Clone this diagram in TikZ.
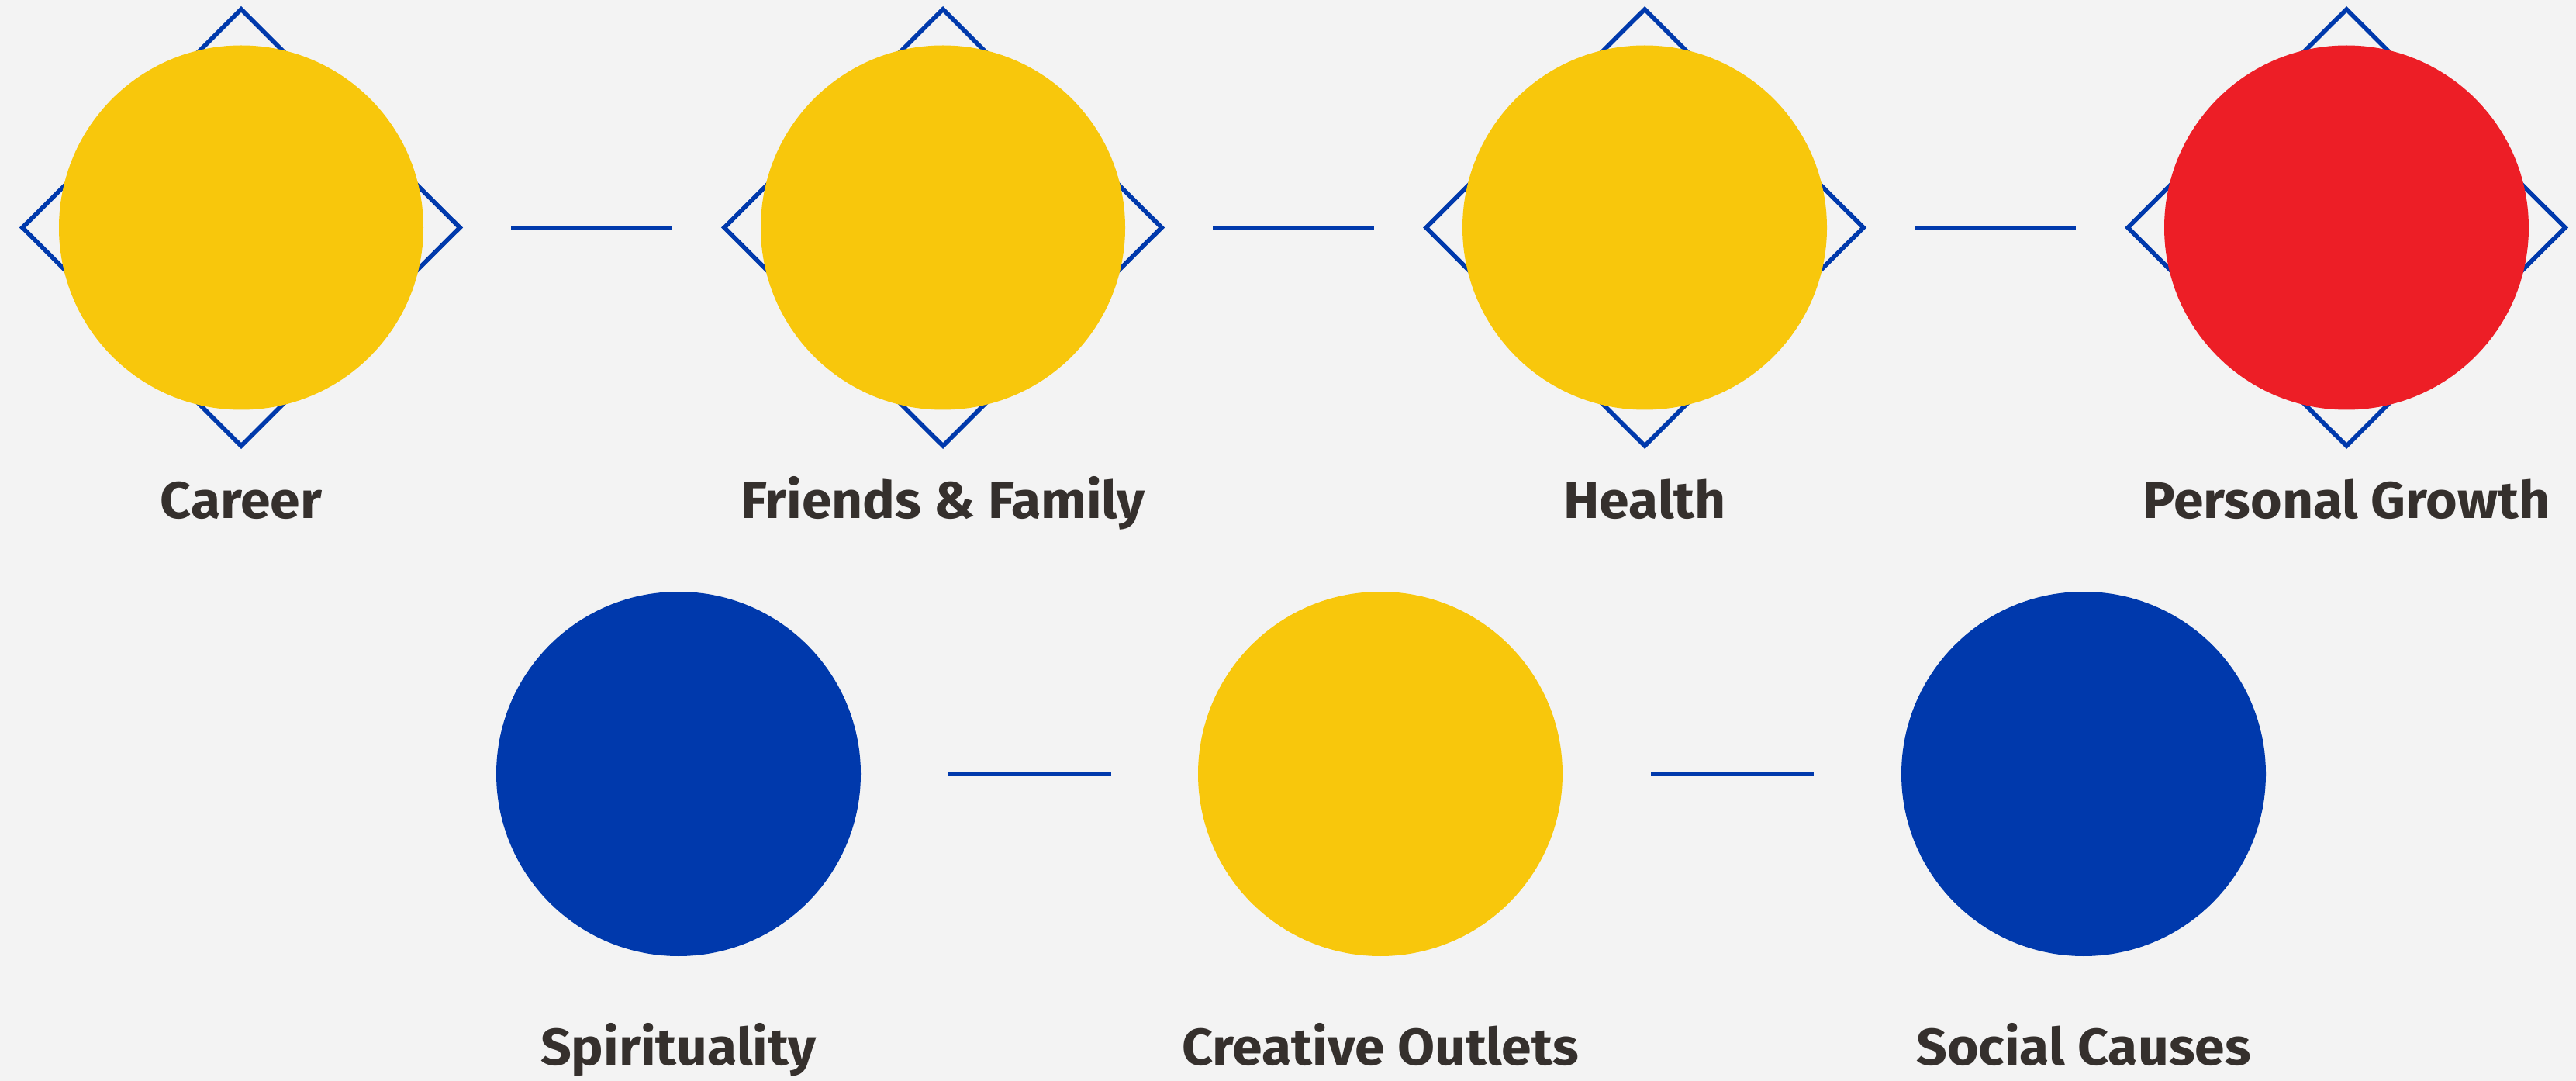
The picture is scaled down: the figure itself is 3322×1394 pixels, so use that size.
\documentclass[tikz,border=0pt]{standalone}
\usepackage{fontspec}
\setmainfont{Fira Sans}[BoldFont={Fira Sans Bold},BoldFeatures={FakeStretch=1.045}]
\definecolor{bg}{HTML}{F3F3F3}
\definecolor{sun}{HTML}{F8C70C}
\definecolor{rubyred}{HTML}{ED1E26}
\definecolor{royal}{HTML}{0039AC}
\definecolor{ink}{HTML}{35302D}
\tikzset{
  ball/.style={circle, minimum size=141pt, inner sep=0pt, draw=none},
  frame/.style={draw=royal, line width=1.7pt, fill=none, line join=miter},
  link/.style={draw=royal, line width=1.7pt},
  lbl/.style={anchor=base, text=ink, font=\fontsize{20}{24}\selectfont\bfseries, inner sep=0pt}
}
\begin{document}
\begin{tikzpicture}[x=0.3pt,y=-0.3pt]
\fill[bg] (0,0) rectangle (3322,1394);
\useasboundingbox (0,0) rectangle (3322,1394);
% diamonds
\foreach \cx/\nm in {311/d1,1216/d2,2121/d3,3026/d4}{
  \draw[frame] (\cx,12) -- (\cx+282,293.5) -- (\cx,575) -- (\cx-282,293.5) -- cycle;
}
% top circles
\node[ball, fill=sun] (career) at (311,293.5) {};
\node[ball, fill=sun] (friends) at (1216,293.5) {};
\node[ball, fill=sun] (health) at (2121,293.5) {};
\node[ball, fill=rubyred] (growth) at (3026,293.5) {};
% bottom circles
\node[ball, fill=royal] (spirit) at (875,998) {};
\node[ball, fill=sun] (creative) at (1780,998) {};
\node[ball, fill=royal] (social) at (2687,998) {};
% connectors
\coordinate (a1) at (659,294); \coordinate (a2) at (867,294);
\coordinate (b1) at (1564,294); \coordinate (b2) at (1772,294);
\coordinate (c1) at (2469,294); \coordinate (c2) at (2677,294);
\coordinate (e1) at (1223,998); \coordinate (e2) at (1433,998);
\coordinate (f1) at (2129,998); \coordinate (f2) at (2339,998);
\draw[link] (a1) -- (a2);
\draw[link] (b1) -- (b2);
\draw[link] (c1) -- (c2);
\draw[link] (e1) -- (e2);
\draw[link] (f1) -- (f2);
% labels
\node[lbl] (lcareer) at (311,668) {Career};
\node[lbl] (lfriends) at (1216,668) {Friends \& Family};
\node[lbl] (lhealth) at (2121,668) {Health};
\node[lbl] (lgrowth) at (3026,668) {Personal Growth};
\node[lbl] (lspirit) at (875,1373) {Spirituality};
\node[lbl] (lcreative) at (1780,1373) {Creative Outlets};
\node[lbl] (lsocial) at (2687,1373) {Social Causes};
\end{tikzpicture}
\end{document}
